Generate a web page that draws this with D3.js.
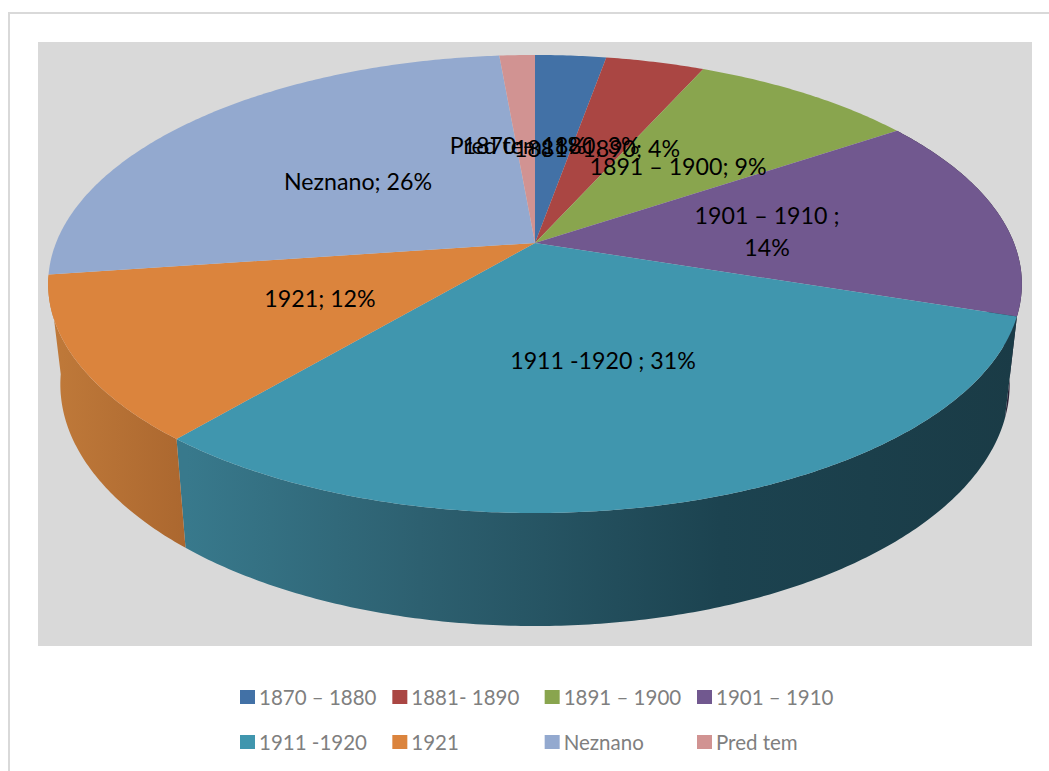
<!DOCTYPE html>
<html>
<head>
<meta charset="utf-8">
<script src="https://cdn.jsdelivr.net/npm/d3@7"></script>
<style>
  html, body { margin: 0; padding: 0; background: #fff; }
  svg { display: block; }
  text { font-family: Lato, "Open Sans", sans-serif; }
</style>
</head>
<body>
<svg class="main-graphic"></svg>
<script>
var categories = ["1870 – 1880", "1881- 1890", "1891 – 1900", "1901 – 1910", "1911 -1920", "1921", "Neznano", "Pred tem"];
var shares = [2.8, 3.9, 8.9, 14.45, 31.1, 11.6, 25.8, 1.4];
var percentLabels = [3, 4, 9, 14, 31, 12, 26, 1];
var colors = ["#4271a6", "#aa4643", "#89a54e", "#71588f", "#4096ae", "#db843d", "#93a9cf", "#d19392"];

var width = 1049, height = 771;

// tilted disc, seen in perspective: near edge is stretched
var k = 0.179;
var topFace = {cx: 535, cy: 243, rx: 479, ry: 221.7};
var bottomFace = {cx: 535, cy: 341, rx: 467, ry: 234};

function project(face, angle, r) {
  var u = Math.sin(angle) * r, v = Math.cos(angle) * r, w = 1 + k * v;
  return [face.cx + face.rx * u / w, face.cy - face.ry * v / w];
}

function arcPoints(face, a0, a1) {
  var n = Math.max(2, Math.ceil((a1 - a0) / 0.01));
  return d3.range(n + 1).map(function(i) {
    return project(face, a0 + (a1 - a0) * i / n, 1);
  });
}

var line = d3.line();

var svg = d3.select(".main-graphic")
    .attr("width", width)
    .attr("height", height);

// outer frame
svg.append("rect")
    .attr("x", 9).attr("y", 13)
    .attr("width", width + 20).attr("height", height + 20)
    .attr("fill", "none").attr("stroke", "#d9d9d9").attr("stroke-width", 2);

// plot area
svg.append("rect")
    .attr("x", 38).attr("y", 42)
    .attr("width", 994).attr("height", 604)
    .attr("fill", "#d9d9d9");

var slices = d3.pie().sort(null).value(function(d) { return d; })(shares);

// wall shading runs left to right
var wallShades = {
  4: [[187, "#38798c"], [420, "#2d6070"], [720, "#1c4350"], [1017, "#1a3b46"]],
  5: [[48, "#c07a3a"], [187, "#ab672f"]],
  3: [[1000, "#2b2136"], [1021, "#2b2136"]]
};

var defs = svg.append("defs");
Object.keys(wallShades).forEach(function(i) {
  var stops = wallShades[i];
  var x0 = stops[0][0], x1 = stops[stops.length - 1][0];
  var grad = defs.append("linearGradient")
      .attr("id", "wall-" + i)
      .attr("gradientUnits", "userSpaceOnUse")
      .attr("x1", x0).attr("x2", x1).attr("y1", 0).attr("y2", 0);
  stops.forEach(function(s) {
    grad.append("stop")
        .attr("offset", (s[0] - x0) / (x1 - x0))
        .attr("stop-color", s[1]);
  });
});

// walls first, the top face covers whatever is behind
svg.append("g").attr("class", "walls")
  .selectAll("path")
    .data(slices.filter(function(d) { return wallShades[d.index]; }))
  .enter().append("path")
    .attr("d", function(d) {
      var upper = arcPoints(topFace, d.startAngle, d.endAngle);
      var lower = arcPoints(bottomFace, d.startAngle, d.endAngle).reverse();
      return line(upper.concat(lower)) + "Z";
    })
    .attr("fill", function(d) { return "url(#wall-" + d.index + ")"; });

svg.append("g").attr("class", "faces")
  .selectAll("path")
    .data(slices)
  .enter().append("path")
    .attr("d", function(d) {
      var pts = [project(topFace, 0, 0)].concat(arcPoints(topFace, d.startAngle, d.endAngle));
      return line(pts) + "Z";
    })
    .attr("fill", function(d) { return colors[d.index]; });

// where each label sits, same order as categories (x centre, y centre of first line)
var labelSpots = [[551, 146], [597, 149], [678, 167], [767, 216], [603, 361], [320, 299], [358, 182], [518, 146]];

var labels = svg.append("g").attr("class", "labels")
    .attr("font-size", 23.2)
    .attr("fill", "#000")
    .attr("text-anchor", "middle");

categories.forEach(function(name, i) {
  var spot = labelSpots[i];
  var t = labels.append("text").attr("x", spot[0]).attr("y", spot[1] + 8);
  if (i == 3) {
    t.append("tspan").text(name + " ;");
    t.append("tspan").attr("x", spot[0]).attr("dy", 32).text(percentLabels[i] + "%");
  } else {
    var sep = i == 4 ? " ; " : "; ";
    t.text(name + sep + percentLabels[i] + "%");
  }
});

// legend, 4 columns by 2 rows
var legendX = d3.scalePoint().domain([0, 1, 2, 3]).range([240, 697]);
var legendY = d3.scalePoint().domain([0, 1]).range([697, 742]);

var legend = svg.append("g").attr("class", "legend")
  .selectAll("g")
    .data(categories)
  .enter().append("g")
    .attr("transform", function(d, i) {
      return "translate(" + legendX(i % 4) + "," + legendY(Math.floor(i / 4)) + ")";
    });

legend.append("rect")
    .attr("x", 0).attr("y", -7)
    .attr("width", 15).attr("height", 14)
    .attr("fill", function(d, i) { return colors[i]; });

legend.append("text")
    .attr("x", 19).attr("y", 8)
    .attr("font-size", 20.5)
    .attr("fill", "#7f7f7f")
    .text(function(d) { return d; });
</script>
</body>
</html>
